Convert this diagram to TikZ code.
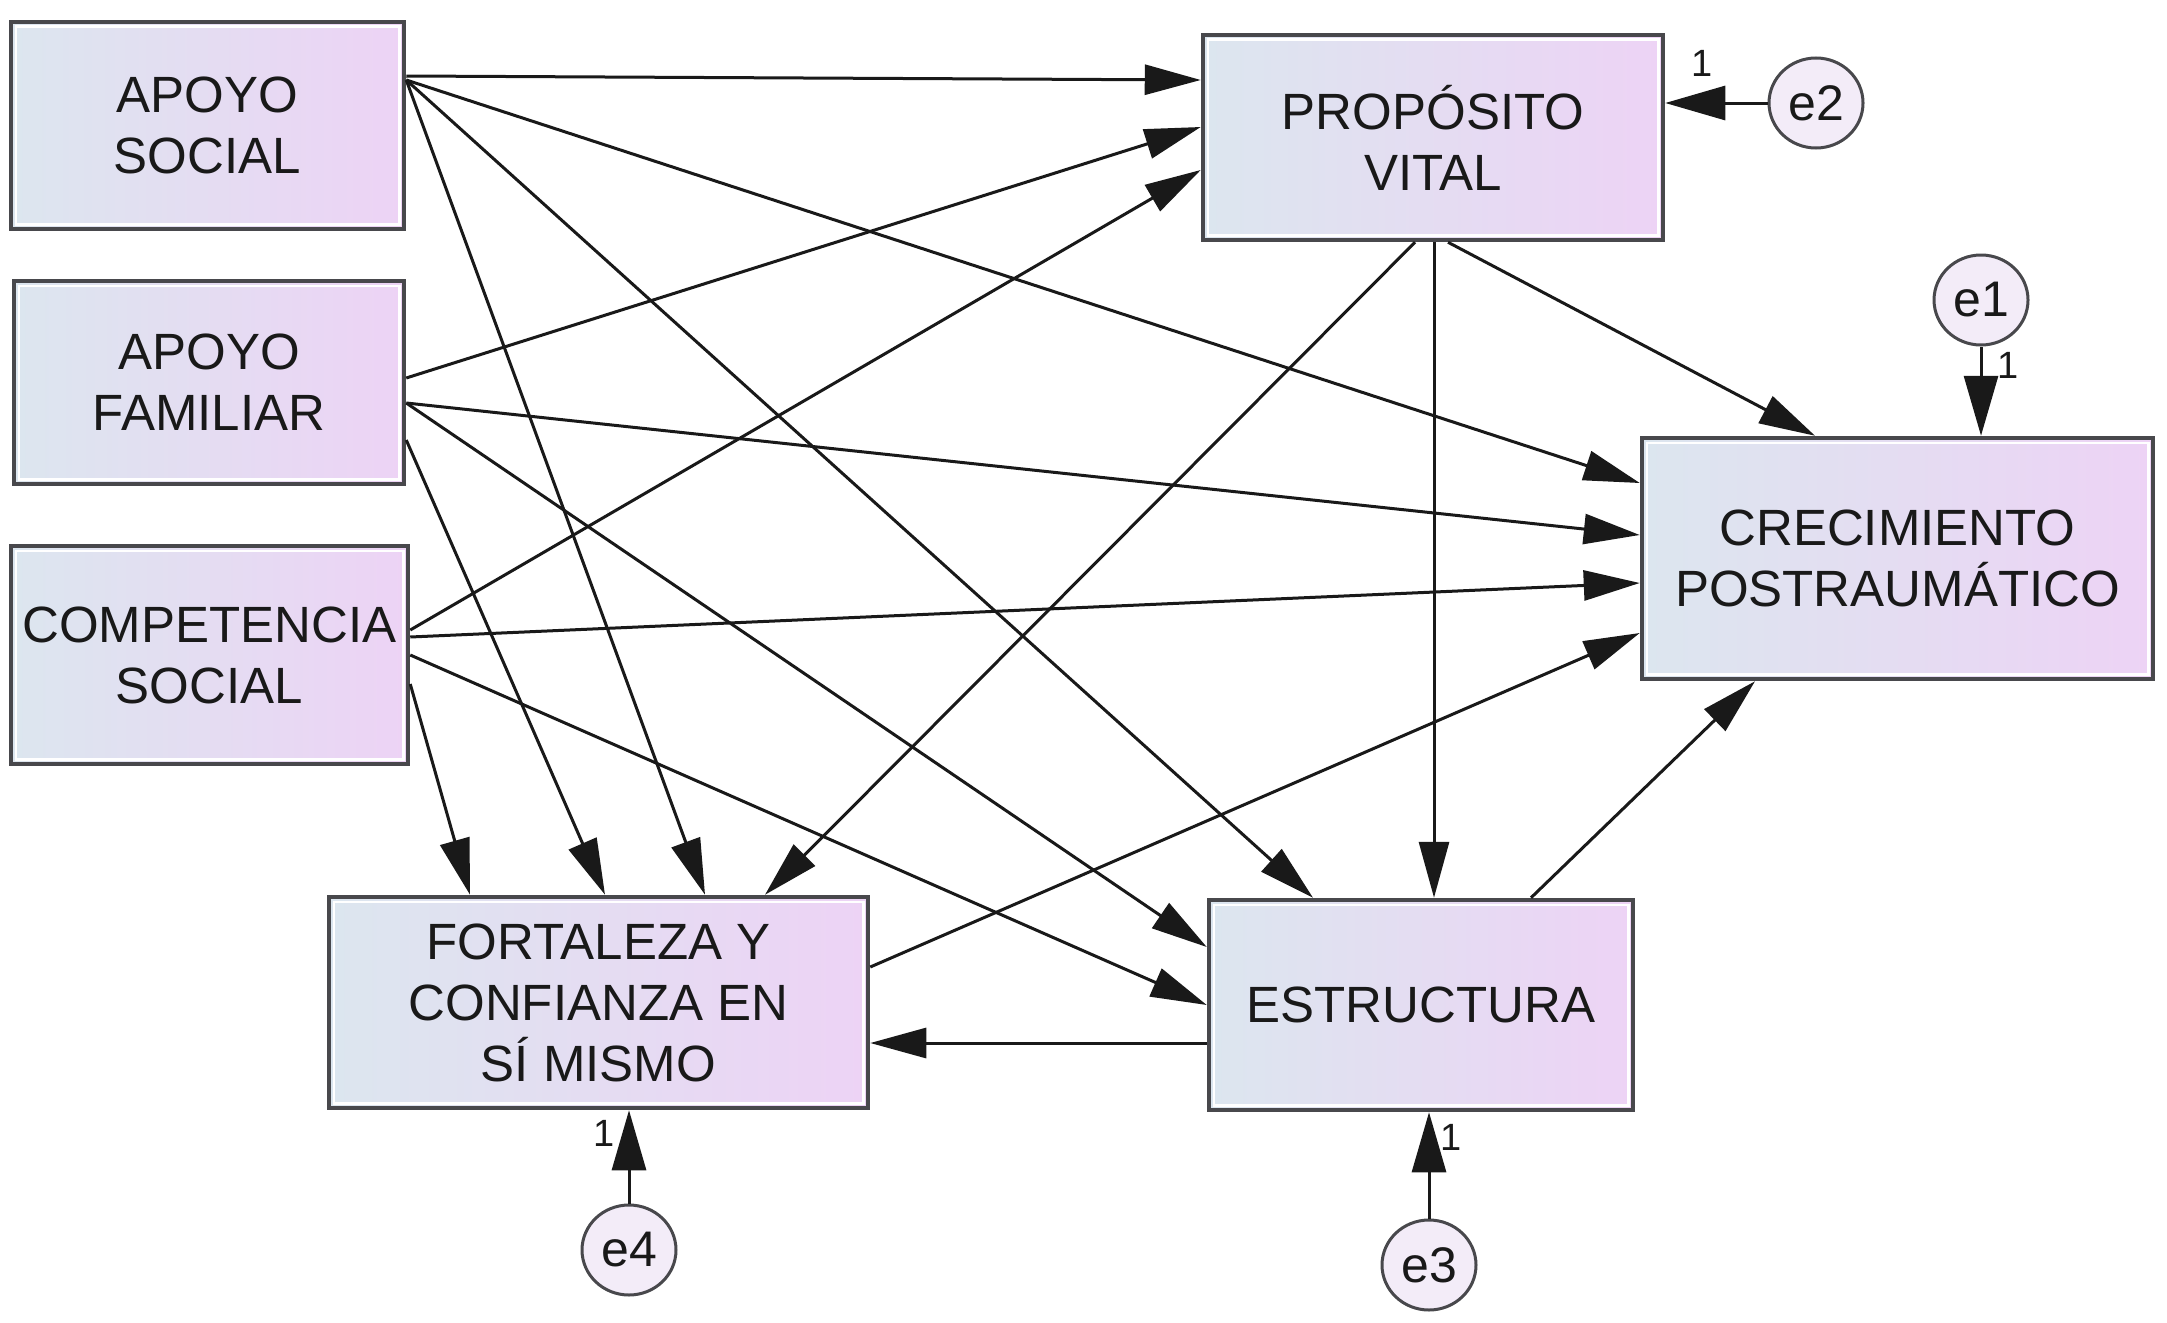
\documentclass[tikz,border=0pt]{standalone}
\usepackage{fontspec}
\setmainfont{Liberation Sans}
\usetikzlibrary{arrows.meta,shapes.geometric}
\definecolor{boxL}{RGB}{220,230,239}
\definecolor{boxR}{RGB}{237,211,245}
\definecolor{bord}{RGB}{72,72,76}
\definecolor{efill}{RGB}{243,236,248}
\begin{document}
\begin{tikzpicture}[x=1pt,y=-1pt,
  varbox/.style={draw=bord, line width=4.5pt, left color=boxL, right color=boxR,
    align=center, inner sep=0pt, text=black!90,
    font=\fontsize{51}{61}\selectfont},
  errc/.style={ellipse, draw=bord, line width=3pt, fill=efill,
    minimum width=94pt, minimum height=90pt, inner sep=0pt, text=black!90,
    font=\fontsize{50}{52}\selectfont},
  conn/.style={-{Triangle[length=56pt,width=30pt]}, line width=3pt, black!90},
  errarrow/.style={-{Triangle[length=60pt,width=34pt]}, line width=3pt, black!90},
  one/.style={inner sep=0pt, text=black!90, font=\fontsize{38}{40}\selectfont}
]
\useasboundingbox (0,0) rectangle (2167,1322);

% variables
\node[varbox, minimum width=393pt, minimum height=207pt] (AS) at (207.5,125.5) {APOYO\\SOCIAL};
\node[varbox, minimum width=390pt, minimum height=203pt] (AF) at (209,382.5) {APOYO\\FAMILIAR};
\node[varbox, minimum width=397pt, minimum height=218pt] (CS) at (209.5,655) {COMPETENCIA\\SOCIAL};
\node[varbox, minimum width=460pt, minimum height=205pt] (PV) at (1433,137.5) {PROPÓSITO\\VITAL};
\node[varbox, minimum width=511pt, minimum height=241pt] (CRE) at (1897.5,558.5) {CRECIMIENTO\\POSTRAUMÁTICO};
\node[varbox, minimum width=539pt, minimum height=211pt] (FORT) at (598.5,1002.5) {FORTALEZA Y\\CONFIANZA EN\\SÍ MISMO};
\node[varbox, minimum width=424pt, minimum height=210pt] (ESTR) at (1421,1005) {ESTRUCTURA};

\foreach \n in {AS,AF,CS,PV,CRE,FORT,ESTR}
  \draw[white, line width=2.5pt] ([xshift=7pt,yshift=-7pt]\n.north west) rectangle ([xshift=-7pt,yshift=7pt]\n.south east);

% error terms
\node[errc] (e1) at (1981,300) {e1};
\node[errc] (e2) at (1816,103) {e2};
\node[errc] (e3) at (1429,1265) {e3};
\node[errc] (e4) at (629,1250) {e4};

% paths from APOYO SOCIAL
\draw[conn] (AS.east |- 0,76) -- (PV.west |- 0,80);
\draw[conn] (AS.east |- 0,80) -- (CRE.west |- 0,483);
\draw[conn] (AS.east |- 0,80) -- (ESTR.north -| 1313,0);
\draw[conn] (AS.east |- 0,80) -- (FORT.north -| 705,0);
% paths from APOYO FAMILIAR
\draw[conn] (AF.east |- 0,378) -- (PV.west |- 0,127);
\draw[conn] (AF.east |- 0,403) -- (CRE.west |- 0,535);
\draw[conn] (AF.east |- 0,403) -- (ESTR.west |- 0,947);
\draw[conn] (AF.east |- 0,440) -- (FORT.north -| 605,0);
% paths from COMPETENCIA SOCIAL
\draw[conn] (CS.east |- 0,630) -- (PV.west |- 0,170);
\draw[conn] (CS.east |- 0,637) -- (CRE.west |- 0,583);
\draw[conn] (CS.east |- 0,655) -- (ESTR.west |- 0,1005);
\draw[conn] (CS.east |- 0,684) -- (FORT.north -| 470,0);
% paths from PROPOSITO VITAL
\draw[conn] (PV.south -| 1415,0) -- (FORT.north -| 765,0);
\draw[conn] (PV.south -| 1434,0) -- (ESTR.north -| 1434,0);
\draw[conn] (PV.south -| 1448,0) -- (CRE.north -| 1815,0);
% other paths
\draw[conn] (FORT.east |- 0,967) -- (CRE.west |- 0,633);
\draw[conn] (ESTR.west |- 0,1043) -- (FORT.east |- 0,1043);
\draw[conn] (ESTR.north -| 1531,0) -- (CRE.south -| 1755,0);

% error arrows
\draw[errarrow] (e2.west) -- (PV.east |- e2.west);
\draw[errarrow] (e1.south) -- (CRE.north -| e1.south);
\draw[errarrow] (e4.north) -- (FORT.south -| e4.north);
\draw[errarrow] (e3.north) -- (ESTR.south -| e3.north);

% weights
\node[one] (w2) at (1702,63) {1};
\node[one] (w1) at (2008,365) {1};
\node[one] (w4) at (604,1133) {1};
\node[one] (w3) at (1451,1137) {1};
\end{tikzpicture}
\end{document}
